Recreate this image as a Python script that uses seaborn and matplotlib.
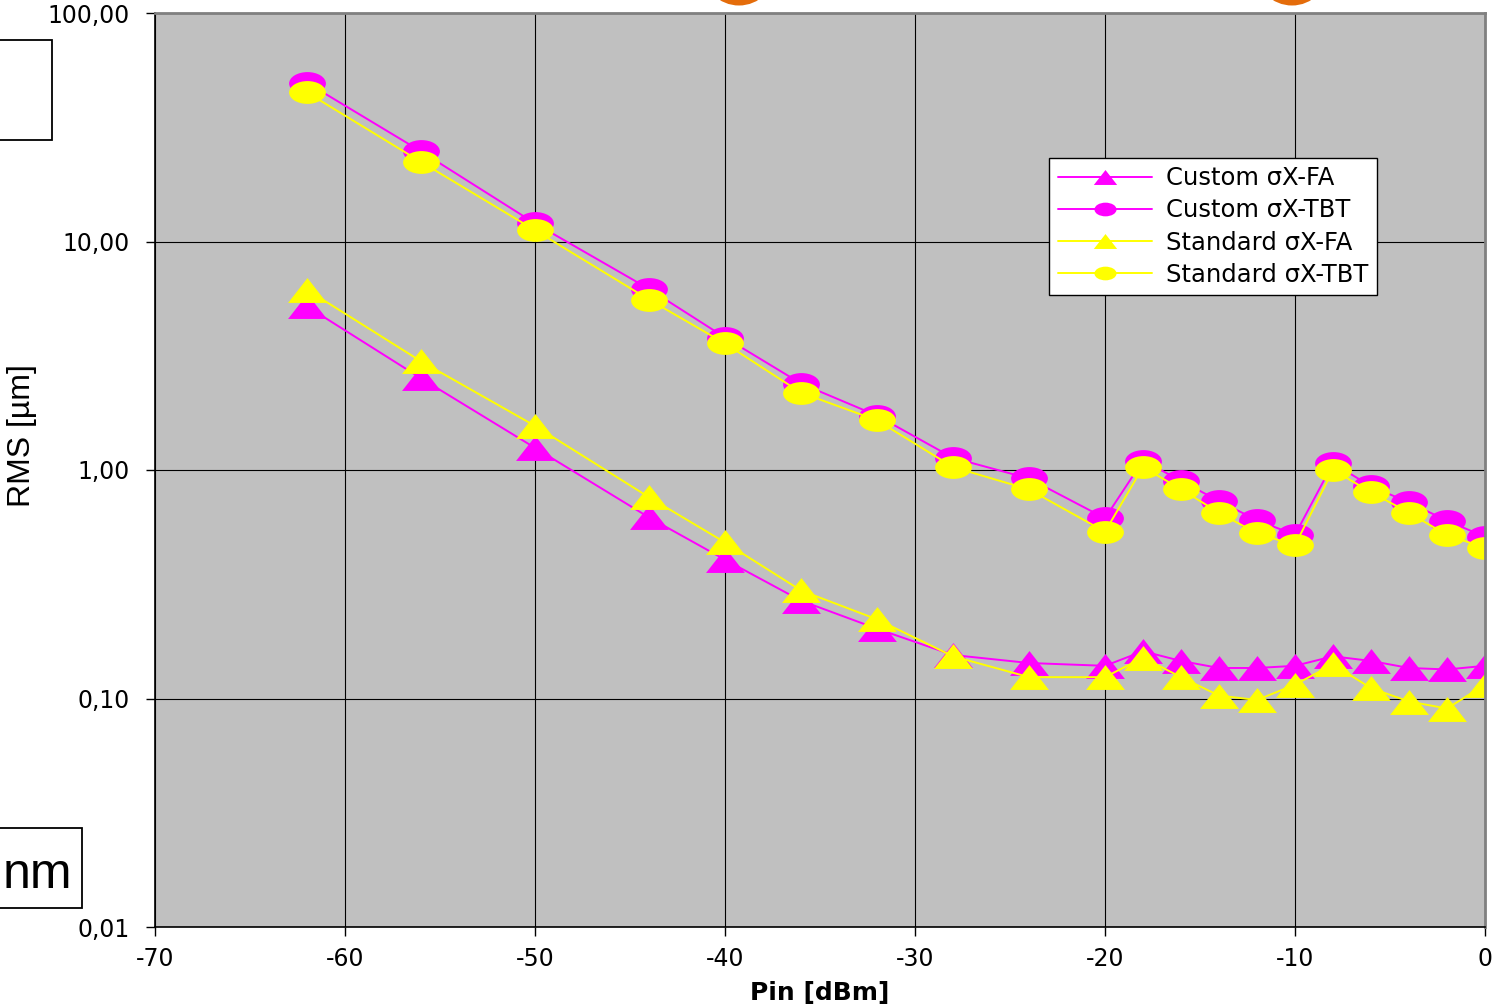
import numpy as np
import pandas as pd
import matplotlib
matplotlib.use("Agg")
import matplotlib.pyplot as plt
from matplotlib.path import Path
from matplotlib.patches import Rectangle, Ellipse
import seaborn as sns

# ---- data ----
pin = [-62, -56, -50, -44, -40, -36, -32, -28, -24, -20, -18, -16, -14, -12,
       -10, -8, -6, -4, -2, 0]
custom_fa = [5.2, 2.52, 1.25, 0.62, 0.405, 0.268, 0.202, 0.155, 0.143, 0.139,
             0.161, 0.146, 0.136, 0.136, 0.139, 0.153, 0.146, 0.136, 0.134, 0.139]
custom_tbt = [49.5, 24.8, 12.0, 6.2, 3.8, 2.39, 1.73, 1.13, 0.918, 0.615,
              1.10, 0.897, 0.731, 0.603, 0.52, 1.07, 0.848, 0.721, 0.60, 0.51]
standard_fa = [6.15, 2.99, 1.56, 0.76, 0.482, 0.297, 0.222, 0.153, 0.124, 0.124,
               0.151, 0.124, 0.103, 0.0985, 0.115, 0.141, 0.111, 0.097, 0.0904, 0.115]
standard_tbt = [44.9, 22.3, 11.2, 5.57, 3.58, 2.18, 1.65, 1.03, 0.822, 0.537,
                1.03, 0.824, 0.65, 0.528, 0.469, 1.0, 0.80, 0.65, 0.519, 0.457]

series_names = ["Custom \u03c3X-FA", "Custom \u03c3X-TBT",
                "Standard \u03c3X-FA", "Standard \u03c3X-TBT"]
series_values = [custom_fa, custom_tbt, standard_fa, standard_tbt]

x_ticks = [-70, -60, -50, -40, -30, -20, -10, 0]
x_tick_labels = ["-70", "-60", "-50", "-40", "-30", "-20", "-10", "0"]
y_ticks = [0.01, 0.1, 1, 10, 100]
y_tick_labels = ["0,01", "0,10", "1,00", "10,00", "100,00"]

df = pd.DataFrame({
    "Pin": pin * 4,
    "RMS": sum(series_values, []),
    "series": np.repeat(series_names, len(pin)),
})

# ---- custom marker shapes (wide ellipse / flat triangle) ----
circ = Path.unit_circle()
ellipse_marker = Path(circ.vertices * np.array([1.0, 0.62]), circ.codes)
tri_marker = Path([(0, 0.64), (-1, -0.64), (1, -0.64), (0, 0.64)],
                  [Path.MOVETO, Path.LINETO, Path.LINETO, Path.CLOSEPOLY])

magenta = "#FF00FF"
yellow = "#FFFF00"
styles = {
    series_names[0]: (magenta, tri_marker, 28),
    series_names[1]: (magenta, ellipse_marker, 26.5),
    series_names[2]: (yellow, tri_marker, 28),
    series_names[3]: (yellow, ellipse_marker, 26.5),
}

sns.set_theme(style="white")
plt.rcParams["font.family"] = ["DejaVu Sans"]
plt.rcParams["text.color"] = "black"
plt.rcParams["axes.labelcolor"] = "black"

fig = plt.figure(figsize=(15, 10.08), dpi=100)
ax = fig.add_axes([155 / 1500, 1 - 927 / 1008, 1330 / 1500, 914 / 1008])
ax.set_facecolor("#C0C0C0")

for name in series_names:
    color, mk, ms = styles[name]
    sns.lineplot(data=df[df["series"] == name], x="Pin", y="RMS", ax=ax,
                 color=color, marker=mk, markersize=ms, markeredgewidth=0,
                 linewidth=1.4, label=name, sort=False, estimator=None)

ax.set_yscale("log")
ax.set_xlim(-70, 0)
ax.set_ylim(0.01, 100)
ax.xaxis.set_major_locator(matplotlib.ticker.FixedLocator(x_ticks))
ax.set_xticklabels(x_tick_labels)
ax.yaxis.set_major_locator(matplotlib.ticker.FixedLocator(y_ticks))
ax.yaxis.set_minor_locator(matplotlib.ticker.NullLocator())
ax.set_yticklabels(y_tick_labels)
ax.grid(True, which="major", color="black", linewidth=0.8)
ax.set_axisbelow(True)

ax.tick_params(axis="both", which="major", direction="out", length=6.5,
               width=1, color="black", labelsize=17, labelcolor="black",
               bottom=True, left=True)
ax.tick_params(axis="y", pad=12)
ax.tick_params(axis="x", pad=8)
for lbl in ax.get_yticklabels():
    lbl.set_verticalalignment("center_baseline")

for side in ["left", "bottom"]:
    ax.spines[side].set_color("black")
    ax.spines[side].set_linewidth(1.2)
for side in ["top", "right"]:
    ax.spines[side].set_color("#808080")
    ax.spines[side].set_linewidth(2)

ax.set_xlabel("Pin [dBm]", fontsize=18, fontweight="bold", color="black",
              labelpad=7)
ax.set_ylabel("")
fig.text(22 / 1500, 1 - 436 / 1008, "RMS [\u00b5m]", rotation=90,
         fontsize=23, family=["Liberation Sans", "DejaVu Sans"],
         ha="center", va="center", color="black")

leg = ax.legend(loc="upper left", bbox_to_anchor=(0.6722, 0.8414),
                borderaxespad=0, frameon=True, fancybox=False,
                edgecolor="black", facecolor="white", framealpha=1,
                fontsize=17.5, markerscale=0.6, handlelength=3.9,
                handletextpad=0.55, labelspacing=0.33, borderpad=0.35,
                labelcolor="black")
leg.get_frame().set_linewidth(1.0)

# ---- slide remnants around the chart ----
fig.patches.append(Rectangle((-2 / 1500, 1 - 140 / 1008), 54 / 1500, 100 / 1008,
                             transform=fig.transFigure, facecolor="white",
                             edgecolor="black", linewidth=1.3, zorder=5))
fig.patches.append(Rectangle((-2 / 1500, 1 - 908 / 1008), 84 / 1500, 80 / 1008,
                             transform=fig.transFigure, facecolor="white",
                             edgecolor="black", linewidth=1.3, zorder=5))
fig.text(3 / 1500, 1 - 888 / 1008, "nm", fontsize=36, ha="left",
         va="baseline", family=["Liberation Sans", "DejaVu Sans"],
         color="black", zorder=6)
for cx in (739, 1292):
    fig.patches.append(Ellipse((cx / 1500, 1 + 31 / 1008), 73 / 1500, 73 / 1008,
                               transform=fig.transFigure, facecolor="#E46C0A",
                               edgecolor="none", zorder=5))

fig.savefig("out.png", dpi=100, facecolor="white")
